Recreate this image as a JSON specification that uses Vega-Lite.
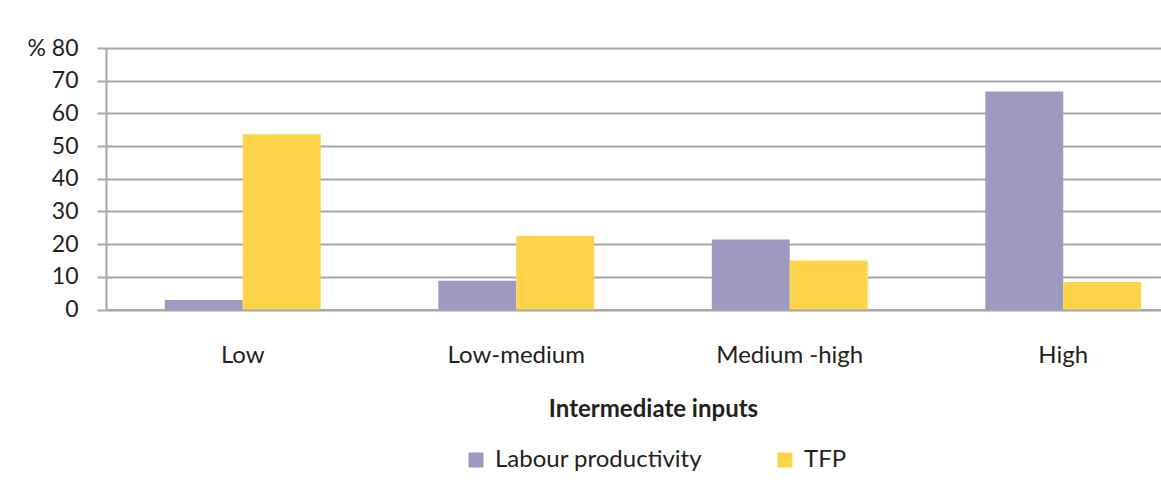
{
  "$schema": "https://vega.github.io/schema/vega-lite/v6.json",
  "width": 1094,
  "height": 261.5,
  "autosize": {"type": "none"},
  "padding": {"left": 106, "top": 48, "right": 0, "bottom": 172},
  "background": "white",
  "config": {
    "font": "Lato",
    "view": {"stroke": null},
    "axis": {"labelFont": "Lato", "titleFont": "Lato", "labelColor": "#231f20", "titleColor": "#231f20"}
  },
  "data": {
    "values": [
      {"category": "Low", "series": "Labour productivity", "value": 2.9},
      {"category": "Low", "series": "TFP", "value": 53.6},
      {"category": "Low-medium", "series": "Labour productivity", "value": 8.8},
      {"category": "Low-medium", "series": "TFP", "value": 22.6},
      {"category": "Medium -high", "series": "Labour productivity", "value": 21.4},
      {"category": "Medium -high", "series": "TFP", "value": 15.0},
      {"category": "High", "series": "Labour productivity", "value": 66.7},
      {"category": "High", "series": "TFP", "value": 8.4}
    ]
  },
  "mark": {"type": "bar"},
  "encoding": {
    "x": {
      "field": "category",
      "type": "nominal",
      "sort": ["Low", "Low-medium", "Medium -high", "High"],
      "scale": {"paddingInner": 0.43, "paddingOuter": 0.215},
      "axis": {
        "title": "Intermediate inputs",
        "titleFontSize": 24,
        "titleFontWeight": "bold",
        "titlePadding": 30,
        "labelAngle": 0,
        "labelFontSize": 24,
        "labelPadding": 34,
        "ticks": false,
        "domain": true,
        "domainColor": "#a6a6a6",
        "domainWidth": 2
      }
    },
    "xOffset": {"field": "series", "type": "nominal", "sort": ["Labour productivity", "TFP"]},
    "y": {
      "field": "value",
      "type": "quantitative",
      "scale": {"domain": [0, 80]},
      "axis": {
        "title": null,
        "values": [0, 10, 20, 30, 40, 50, 60, 70, 80],
        "labelExpr": "datum.value == 80 ? '% 80' : datum.label",
        "labelFontSize": 23,
        "labelPadding": 19,
        "tickSize": 9,
        "tickColor": "#a6a6a6",
        "tickWidth": 2,
        "domainColor": "#a6a6a6",
        "domainWidth": 2,
        "grid": true,
        "gridColor": "#a6a6a6",
        "gridWidth": 2
      }
    },
    "color": {
      "field": "series",
      "type": "nominal",
      "scale": {"domain": ["Labour productivity", "TFP"], "range": ["#9e99c1", "#fdd54a"]},
      "legend": {
        "title": null,
        "orient": "none",
        "direction": "horizontal",
        "legendX": 358,
        "legendY": 400,
        "symbolType": "square",
        "symbolSize": 225,
        "symbolStrokeWidth": 0,
        "labelFontSize": 24,
        "labelLimit": 0,
        "labelColor": "#231f20",
        "labelOffset": 7,
        "columnPadding": 70
      }
    }
  }
}
